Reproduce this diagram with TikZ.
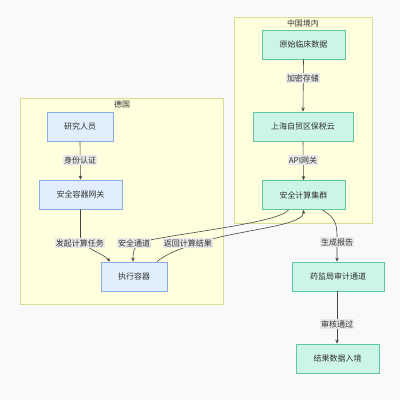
\documentclass[tikz,border=0pt]{standalone}
\usepackage{fontspec}
\setmainfont{Noto Sans CJK SC}
\usetikzlibrary{arrows.meta,calc}
\definecolor{bgc}{HTML}{F9F9F9}
\definecolor{clfill}{HTML}{FFFFDE}
\definecolor{cldraw}{HTML}{DCDC95}
\definecolor{bfill}{HTML}{E1EEFC}
\definecolor{bdraw}{HTML}{8AABE6}
\definecolor{gfill}{HTML}{CDF5E6}
\definecolor{gdraw}{HTML}{62C6A2}
\definecolor{txt}{HTML}{333333}
\definecolor{lbl}{HTML}{E8E8E8}
\tikzset{
  cluster/.style={draw=cldraw, fill=clfill, line width=0.8pt},
  bluebox/.style={draw=bdraw, fill=bfill, line width=0.8pt, minimum height=29pt, text=txt, font=\fontsize{8}{9}\selectfont, inner sep=0pt},
  greenbox/.style={draw=gdraw, fill=gfill, line width=0.8pt, minimum height=29pt, text=txt, font=\fontsize{8}{9}\selectfont, inner sep=0pt},
  elabel/.style={fill=lbl, text=txt, font=\fontsize{8}{9}\selectfont, inner sep=1.2pt},
  ctitle/.style={text=txt, font=\fontsize{8}{9}\selectfont, inner sep=0pt},
  conn/.style={draw=txt!90, line width=0.6pt, -{Stealth[length=4pt,width=3.5pt]}}
}
\begin{document}
\begin{tikzpicture}[x=1pt,y=-1pt]
\fill[bgc] (0,0) rectangle (400,400);
\useasboundingbox (0,0) rectangle (400,400);
% clusters
\draw[cluster] (20,98) rectangle (223,304);
\node[ctitle] (tde) at (122,104) {德国};
\draw[cluster] (234,17) rectangle (372,223);
\node[ctitle] (tcn) at (303,23) {中国境内};
% nodes
\node[bluebox, minimum width=66pt] (res) at (80,126.5) {研究人员};
\node[bluebox, minimum width=83pt] (gw) at (80.5,194.5) {安全容器网关};
\node[bluebox, minimum width=66pt] (exe) at (134,276.5) {执行容器};
\node[greenbox, minimum width=83pt] (raw) at (303.5,44.5) {原始临床数据};
\node[greenbox, minimum width=100pt] (sh) at (303,126.5) {上海自贸区保税云};
\node[greenbox, minimum width=83pt] (cl) at (303.5,195) {安全计算集群};
\node[greenbox, minimum width=92pt] (fda) at (338,276.5) {药监局审计通道};
\node[greenbox, minimum width=83pt] (out) at (337.5,358.5) {结果数据入境};
% edges
\draw[conn] (res.south) -- (gw.north);
\draw[conn] (raw.south) -- (sh.north);
\draw[conn] (sh.south) -- (cl.north);
\draw[conn] (gw.south) -- ++(0,28) .. controls ++(0,10) and ($(exe.north)+(-30,-8)$) .. ($(exe.north)+(-24,0)$);
\draw[conn] ($(cl.south)+(-15,0)$) .. controls ++(-8,12) and (190,232) .. (150,240) .. controls (134,244) and ($(exe.north)+(-1,-12)$) .. ($(exe.north)+(-1,0)$);
\draw[conn] ($(exe.north)+(23,0)$) .. controls ++(12,-10) and (190,245) .. (220,237) .. controls (260,228) and ($(cl.south)+(0,14)$) .. (cl.south);
\draw[conn] ($(cl.south)+(19,0)$) .. controls ++(12,8) and ($(fda.north)+(-1,-40)$) .. ($(fda.north)+(-1,-24)$) -- ($(fda.north)+(-1,0)$);
\draw[conn] ($(fda.south)+(-1,0)$) -- ($(out.north)+(-0.5,0)$);
% edge labels
\node[elabel] (l1) at (80,160) {身份认证};
\node[elabel] (l2) at (303,78) {加密存储};
\node[elabel] (l3) at (303,160) {API网关};
\node[elabel] (l4) at (80,243) {发起计算任务};
\node[elabel] (l5) at (134,243) {安全通道};
\node[elabel] (l6) at (188,243) {返回计算结果};
\node[elabel] (l7) at (337,242) {生成报告};
\node[elabel] (l8) at (337,324) {审核通过};
\end{tikzpicture}
\end{document}
